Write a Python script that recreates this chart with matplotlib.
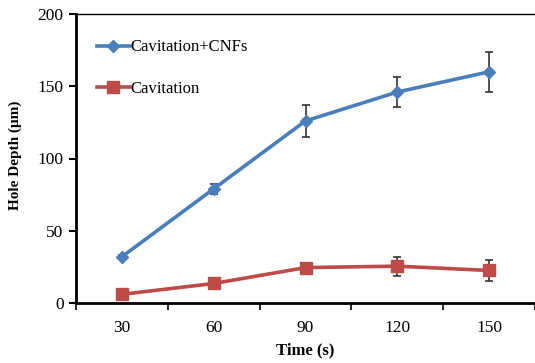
import matplotlib
matplotlib.use("Agg")
import matplotlib.pyplot as plt
import numpy as np

categories = ["30", "60", "90", "120", "150"]
cnf_values = [32, 79, 126, 146, 160]
cnf_err = [1.5, 3.5, 11, 10.5, 14]
cav_values = [6, 13.5, 24.5, 25.5, 22.5]
cav_err = [1, 1.5, 2, 6.5, 7]
y_ticks = [0, 50, 100, 150, 200]

plt.rcParams['font.family'] = ['Liberation Serif', 'DejaVu Serif']

fig = plt.figure(figsize=(5.35, 3.63), dpi=100)
ax = fig.add_axes([76/535, 1-303/363, 1-76/535, (303-14)/363])

x = np.arange(len(categories))
blue = "#4A7EBB"
red = "#BE4B48"

ax.errorbar(x, cnf_values, yerr=cnf_err, color=blue, lw=2.6, marker="D", ms=6.5,
            ecolor="#333333", elinewidth=1.2, capsize=3, capthick=1.2,
            label="Cavitation+CNFs", zorder=3)
ax.errorbar(x, cav_values, yerr=cav_err, color=red, lw=2.6, marker="s", ms=8,
            ecolor="#333333", elinewidth=1.2, capsize=3, capthick=1.2,
            label="Cavitation", zorder=3)

ax.set_xlim(-0.5, len(categories) - 0.5)
ax.set_ylim(0, 200)
ax.set_yticks(y_ticks)
ax.set_xticks(x)
ax.set_xticklabels(categories)
ax.set_xticks(np.arange(-0.5, len(categories)), minor=True)
ax.tick_params(axis="x", which="major", length=0, pad=12, labelsize=12.5)
ax.tick_params(axis="x", which="minor", length=5, width=1.2, direction="out")
ax.tick_params(axis="y", length=5, width=1.5, direction="out", labelsize=12.5, pad=4)

for s in ["left", "bottom"]:
    ax.spines[s].set_linewidth(2)
ax.spines["top"].set_linewidth(1)
ax.spines["right"].set_visible(False)

ax.set_xlabel("Time (s)", fontsize=12, fontweight="bold", labelpad=5)
ax.set_ylabel("Hole Depth (μm)", fontsize=11, fontweight="bold")
ax.yaxis.set_label_coords(-0.117, 0.51)

handles, labels = ax.get_legend_handles_labels()
handles = [h[0] for h in handles]
leg = ax.legend(handles, labels, loc="upper left", bbox_to_anchor=(0.045, 0.912),
                frameon=False, fontsize=12, labelspacing=1.55, handlelength=2.0,
                handletextpad=0.05, borderaxespad=0, borderpad=0)

fig.savefig("out.png", dpi=100)
